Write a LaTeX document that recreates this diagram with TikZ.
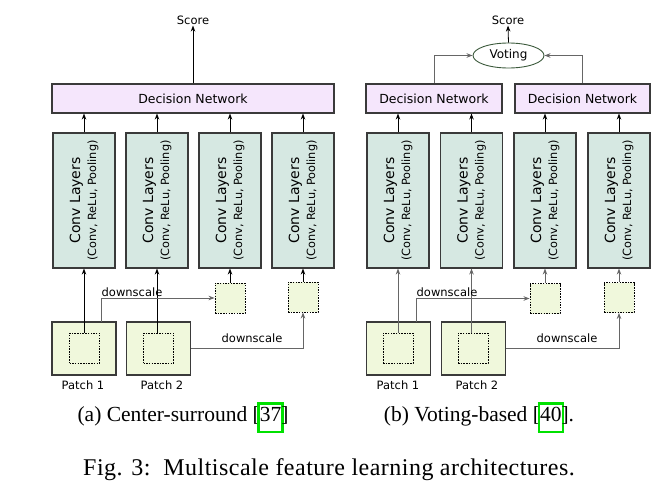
\documentclass[tikz,border=0pt]{standalone}
\usepackage{fontspec}
\setsansfont{DejaVu Sans}
\newfontfamily\captionfont{Liberation Serif}
\newfontfamily\figcaptionfont[LetterSpace=2]{Liberation Serif}
\usetikzlibrary{arrows.meta,positioning,shapes.geometric}
\definecolor{decisionfill}{HTML}{F5E6FC}
\definecolor{convfill}{HTML}{D6E8E2}
\definecolor{patchfill}{HTML}{F0F8DC}
\definecolor{boxline}{HTML}{3A3A3A}
\definecolor{flowgray}{HTML}{666666}
\definecolor{votegreen}{HTML}{3C5A3C}
\definecolor{linkgreen}{RGB}{0,225,0}
\newcommand{\citelink}[1]{\makebox[0pt][l]{\hspace{-2.5pt}\color{linkgreen}\setlength{\fboxsep}{0pt}\setlength{\fboxrule}{2.5pt}\fbox{\rule[-9.5pt]{0pt}{26pt}\phantom{#1}}}#1}
\tikzset{
    decision/.style={draw=boxline, fill=decisionfill, line width=1.1pt, minimum height=29pt, inner sep=0pt,
        font=\sffamily\fontsize{12.5}{15}\selectfont},
    convbox/.style={draw=boxline, fill=convfill, line width=1.1pt, rotate=90, minimum width=135pt,
        minimum height=62pt, inner sep=0pt, align=center, font=\sffamily\fontsize{14}{16}\selectfont},
    patch/.style={draw=boxline, fill=patchfill, line width=1.1pt, minimum width=64pt, minimum height=53pt, inner sep=0pt},
    centre/.style={draw=black, dash pattern=on 1.5pt off 1.2pt, line width=0.9pt, minimum size=30pt, inner sep=0pt},
    smallpatch/.style={centre, fill=patchfill},
    voting/.style={ellipse, draw=votegreen, line width=0.9pt, minimum width=71pt, minimum height=25pt, inner sep=0pt,
        font=\sffamily\fontsize{12}{14}\selectfont},
    labeltext/.style={font=\sffamily\fontsize{11.5}{13}\selectfont, inner sep=1pt},
    flow/.style={-{Stealth[length=6pt,width=4.5pt]}, line width=0.8pt},
    scaleflow/.style={flow, draw=flowgray},
    captiontext/.style={font=\captionfont\fontsize{21.5}{25}\selectfont, anchor=base, inner sep=0pt},
}
\newcommand{\convtext}{Conv Layers\\[0pt]{\fontsize{11.3}{13}\selectfont (Conv, ReLu, Pooling)}}

\begin{document}
\begin{tikzpicture}[x=1pt,y=-1pt]
  \useasboundingbox (0,0) rectangle (670,487);

  % (a) Center-surround
  \node[decision, minimum width=282pt] (dnl) at (193,98.5) {Decision Network};
  \node[labeltext] (scorel) at (193,20) {Score};
  \draw[flow] (dnl.north) -- (scorel.south);

  \node[convbox] (cl1) at (84,200.5) {\convtext};
  \node[convbox] (cl2) at (157,200.5) {\convtext};
  \node[convbox] (cl3) at (230,200.5) {\convtext};
  \node[convbox] (cl4) at (303,200.5) {\convtext};
  \draw[flow] (cl1.east) -- (cl1.east |- dnl.south);
  \draw[flow] (cl2.east) -- (cl2.east |- dnl.south);
  \draw[flow] (cl3.east) -- (cl3.east |- dnl.south);
  \draw[flow] (cl4.east) -- (cl4.east |- dnl.south);

  % Patches
  \node[patch] (pl1) at (84,348.5) {};
  \node[centre] (il1) at (84.5,348) {};
  \node[patch] (pl2) at (158.5,348.5) {};
  \node[centre] (il2) at (158.5,348) {};
  \node[labeltext] (tl1) at (83,385) {Patch 1};
  \node[labeltext] (tl2) at (162,385) {Patch 2};
  \node[smallpatch] (sl3) at (230,298) {};
  \node[smallpatch] (sl4) at (303,297) {};

  \draw[flow] (il1.north -| cl1) -- (cl1.west);
  \draw[flow] (il2.north -| cl2) -- (cl2.west);
  \draw[flow] (sl3.north) -- (cl3.west);
  \draw[flow] (sl4.north) -- (cl4.west);

  % Downscale
  \coordinate (dsl) at (101,322);
  \draw[scaleflow] (dsl) |- (sl3.west);
  \draw[scaleflow] (pl2.east) -| (sl4.south);
  \node[labeltext] (dtl1) at (132,292) {downscale};
  \node[labeltext] (dtl2) at (252,338) {downscale};

  % (b) Voting-based
  \node[decision, minimum width=136pt] (dnr1) at (434,98.5) {Decision Network};
  \node[decision, minimum width=135pt] (dnr2) at (582.5,98.5) {Decision Network};
  \node[voting] (vote) at (508.5,55.5) {Voting};
  \node[labeltext] (scorer) at (508,20) {Score};
  \draw[flow] (vote.north) -- (scorer.south);
  \draw[scaleflow] (dnr1.north) |- (vote.west);
  \draw[scaleflow] (dnr2.north) |- (vote.east);

  \node[convbox] (cr1) at (398,200.5) {\convtext};
  \node[convbox] (cr2) at (471.5,200.5) {\convtext};
  \node[convbox] (cr3) at (545,200.5) {\convtext};
  \node[convbox] (cr4) at (619,200.5) {\convtext};
  \draw[flow] (cr1.east) -- (cr1.east |- dnr1.south);
  \draw[flow] (cr2.east) -- (cr2.east |- dnr1.south);
  \draw[flow] (cr3.east) -- (cr3.east |- dnr2.south);
  \draw[flow] (cr4.east) -- (cr4.east |- dnr2.south);

  % Patches
  \node[patch] (pr1) at (398.5,348.5) {};
  \node[centre] (ir1) at (398,348) {};
  \node[patch] (pr2) at (473.5,348.5) {};
  \node[centre] (ir2) at (473,348) {};
  \node[labeltext] (tr1) at (398,385) {Patch 1};
  \node[labeltext] (tr2) at (477,385) {Patch 2};
  \node[smallpatch] (sr3) at (545,298.5) {};
  \node[smallpatch] (sr4) at (619,297.5) {};

  \draw[scaleflow] (ir1.north -| cr1) -- (cr1.west);
  \draw[scaleflow] (ir2.north -| cr2) -- (cr2.west);
  \draw[scaleflow] (sr3.north) -- (cr3.west);
  \draw[scaleflow] (sr4.north) -- (cr4.west);

  % Downscale
  \coordinate (dsr) at (416,322);
  \draw[scaleflow] (dsr) |- (sr3.west);
  \draw[scaleflow] (pr2.east) -| (sr4.south);
  \node[labeltext] (dtr1) at (447,292) {downscale};
  \node[labeltext] (dtr2) at (567,338) {downscale};

  % Captions
  \node[captiontext] (capa) at (183,421) {(a) Center-surround [\citelink{37}]};
  \node[captiontext] (capb) at (479,421) {(b) Voting-based [\citelink{40}].};
  \node[captiontext, font=\figcaptionfont\fontsize{24}{28}\selectfont] (capfig) at (329,475) {Fig. 3:\ \ Multiscale feature learning architectures.};
\end{tikzpicture}
\end{document}
